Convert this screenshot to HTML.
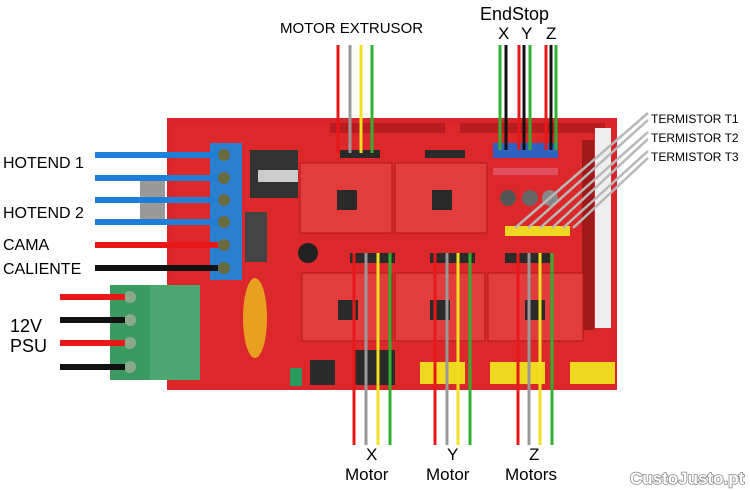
<!DOCTYPE html>
<html><head><style>
body{margin:0;background:#fff;}
svg{display:block}
text{font-family:"Liberation Sans",sans-serif;fill:#000}
</style></head><body>
<svg width="750" height="490" viewBox="0 0 750 490">
<!-- board -->
<rect x="167" y="118" width="450" height="272" fill="#d8262a"/>
<rect x="172" y="123" width="440" height="262" fill="#e02a2c" opacity="0.6"/>
<!-- header strips -->
<rect x="330" y="123" width="115" height="10" fill="#b81c20"/>
<rect x="460" y="123" width="145" height="10" fill="#b81c20"/>
<rect x="595" y="128" width="16" height="200" fill="#eee"/>
<rect x="582" y="140" width="12" height="190" fill="#a01a1c"/>
<!-- heatsink/regulators -->
<rect x="250" y="150" width="48" height="48" fill="#333"/>
<rect x="258" y="170" width="40" height="12" fill="#ccc"/>
<rect x="245" y="212" width="22" height="50" fill="#444"/>
<circle cx="308" cy="253" r="10" fill="#222"/>
<ellipse cx="255" cy="318" rx="12" ry="40" fill="#e8a020"/>
<!-- drivers -->
<g fill="#e23c3c" stroke="#b01818">
<rect x="300" y="163" width="92" height="70"/>
<rect x="395" y="163" width="92" height="70"/>
<rect x="302" y="273" width="90" height="68"/>
<rect x="395" y="273" width="90" height="68"/>
<rect x="488" y="273" width="95" height="68"/>
</g>
<g fill="#2a2a2a">
<rect x="337" y="190" width="20" height="20"/><rect x="432" y="190" width="20" height="20"/>
<rect x="338" y="300" width="20" height="20"/><rect x="430" y="300" width="20" height="20"/>
<rect x="525" y="300" width="20" height="20"/>
<rect x="340" y="150" width="40" height="8"/><rect x="425" y="150" width="40" height="8"/>
<rect x="350" y="253" width="45" height="10"/><rect x="430" y="253" width="45" height="10"/><rect x="505" y="253" width="45" height="10"/>
<rect x="355" y="350" width="40" height="35"/><rect x="310" y="360" width="25" height="25"/>
</g>
<!-- caps -->
<circle cx="508" cy="198" r="8" fill="#555"/><circle cx="530" cy="198" r="8" fill="#666"/><circle cx="550" cy="198" r="8" fill="#888"/>
<!-- yellow headers -->
<g fill="#f0d820">
<rect x="505" y="226" width="65" height="10"/>
<rect x="420" y="362" width="45" height="22"/><rect x="490" y="362" width="55" height="22"/><rect x="570" y="362" width="45" height="22"/>
</g>
<rect x="493" y="143" width="65" height="15" fill="#3060c0"/>
<rect x="493" y="168" width="65" height="7" fill="#e05060"/>
<rect x="290" y="368" width="12" height="18" fill="#2a9a60"/>
<!-- blue terminal -->
<rect x="210" y="143" width="32" height="137" fill="#2a7fd0"/>
<g fill="#6a6a40"><circle cx="224" cy="155" r="6"/><circle cx="224" cy="178" r="6"/><circle cx="224" cy="200" r="6"/><circle cx="224" cy="222" r="6"/><circle cx="224" cy="245" r="6"/><circle cx="224" cy="268" r="6"/></g>
<!-- green terminal -->
<rect x="110" y="285" width="90" height="95" fill="#4aa870"/>
<rect x="110" y="285" width="40" height="95" fill="#3a9a60"/>
<g fill="#8a8"><circle cx="130" cy="297" r="6"/><circle cx="130" cy="320" r="6"/><circle cx="130" cy="343" r="6"/><circle cx="130" cy="367" r="6"/></g>
<rect x="140" y="180" width="25" height="45" fill="#999"/>
<!-- left wires -->
<g stroke-width="6">
<line x1="95" y1="155" x2="218" y2="155" stroke="#1f7fd6"/>
<line x1="95" y1="178" x2="218" y2="178" stroke="#1f7fd6"/>
<line x1="95" y1="200" x2="218" y2="200" stroke="#1f7fd6"/>
<line x1="95" y1="222" x2="218" y2="222" stroke="#1f7fd6"/>
<line x1="95" y1="245" x2="218" y2="245" stroke="#e81818"/>
<line x1="95" y1="268" x2="218" y2="268" stroke="#111"/>
<line x1="60" y1="297" x2="125" y2="297" stroke="#e81818"/>
<line x1="60" y1="320" x2="125" y2="320" stroke="#111"/>
<line x1="60" y1="343" x2="125" y2="343" stroke="#e81818"/>
<line x1="60" y1="367" x2="125" y2="367" stroke="#111"/>
</g>
<!-- top wires -->
<g stroke-width="3">
<line x1="338" y1="45" x2="338" y2="153" stroke="#e81818"/>
<line x1="350" y1="45" x2="350" y2="153" stroke="#999"/>
<line x1="361" y1="45" x2="361" y2="153" stroke="#f0e020"/>
<line x1="372" y1="45" x2="372" y2="153" stroke="#30b030"/>
<line x1="500" y1="45" x2="500" y2="150" stroke="#30b030"/>
<line x1="506" y1="45" x2="506" y2="150" stroke="#111"/>
<line x1="519" y1="45" x2="519" y2="150" stroke="#e81818"/>
<line x1="524" y1="45" x2="524" y2="150" stroke="#111"/>
<line x1="530" y1="45" x2="530" y2="150" stroke="#30b030"/>
<line x1="546" y1="45" x2="546" y2="150" stroke="#e81818"/>
<line x1="551" y1="45" x2="551" y2="150" stroke="#111"/>
<line x1="556" y1="45" x2="556" y2="150" stroke="#30b030"/>
<!-- bottom wires -->
<line x1="354" y1="253" x2="354" y2="445" stroke="#e81818"/>
<line x1="366" y1="253" x2="366" y2="445" stroke="#999"/>
<line x1="378" y1="253" x2="378" y2="445" stroke="#f0e020"/>
<line x1="390" y1="253" x2="390" y2="445" stroke="#30b030"/>
<line x1="435" y1="253" x2="435" y2="445" stroke="#e81818"/>
<line x1="447" y1="253" x2="447" y2="445" stroke="#999"/>
<line x1="458" y1="253" x2="458" y2="445" stroke="#f0e020"/>
<line x1="470" y1="253" x2="470" y2="445" stroke="#30b030"/>
<line x1="518" y1="253" x2="518" y2="445" stroke="#e81818"/>
<line x1="529" y1="253" x2="529" y2="445" stroke="#999"/>
<line x1="540" y1="253" x2="540" y2="445" stroke="#f0e020"/>
<line x1="552" y1="253" x2="552" y2="445" stroke="#30b030"/>
</g>
<!-- thermistor lines -->
<g stroke="#b8b8b8" stroke-width="2.5">
<line x1="648" y1="113" x2="515" y2="228"/>
<line x1="648" y1="120" x2="528" y2="228"/>
<line x1="648" y1="132" x2="540" y2="228"/>
<line x1="648" y1="139" x2="552" y2="228"/>
<line x1="648" y1="151" x2="563" y2="228"/>
<line x1="648" y1="158" x2="573" y2="228"/>
</g>
<!-- labels -->
<text x="280" y="33" font-size="15">MOTOR EXTRUSOR</text>
<text x="480" y="20" font-size="18">EndStop</text>
<text x="498" y="39" font-size="17">X</text><text x="521" y="39" font-size="17">Y</text><text x="546" y="39" font-size="17">Z</text>
<text x="651" y="123" font-size="12">TERMISTOR T1</text>
<text x="651" y="142" font-size="12">TERMISTOR T2</text>
<text x="651" y="161" font-size="12">TERMISTOR T3</text>
<text x="3" y="168" font-size="16">HOTEND 1</text>
<text x="3" y="218" font-size="16">HOTEND 2</text>
<text x="3" y="250" font-size="16">CAMA</text>
<text x="3" y="274" font-size="16">CALIENTE</text>
<text x="10" y="332" font-size="18">12V</text>
<text x="10" y="352" font-size="18">PSU</text>
<text x="366" y="460" font-size="17">X</text><text x="345" y="480" font-size="17">Motor</text>
<text x="447" y="460" font-size="17">Y</text><text x="426" y="480" font-size="17">Motor</text>
<text x="529" y="460" font-size="17">Z</text><text x="505" y="480" font-size="17">Motors</text>
<text x="630" y="484" font-size="17" font-weight="bold" style="fill:#fff;stroke:#888;stroke-width:1.5;paint-order:stroke">CustoJusto.pt</text>
</svg>
</body></html>
